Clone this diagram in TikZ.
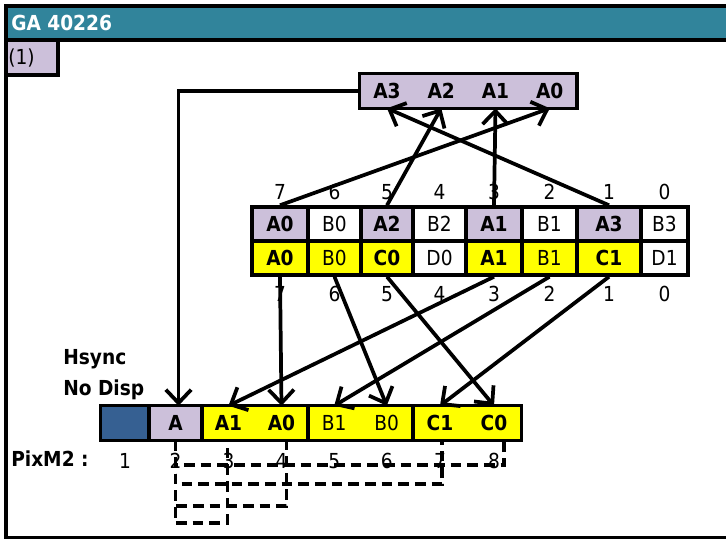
\documentclass[tikz,border=0pt]{standalone}
\usepackage{fontspec}
\setmainfont{DejaVu Sans Condensed}
\usetikzlibrary{arrows.meta}
\definecolor{headteal}{RGB}{49,132,155}
\definecolor{palelilac}{RGB}{204,192,218}
\definecolor{darkblue}{RGB}{54,96,146}
\definecolor{cellyellow}{RGB}{255,255,0}

\begin{document}
\begin{tikzpicture}[x=0.75pt,y=-0.75pt,
  every node/.style={font=\fontsize{15.5}{17}\selectfont, inner sep=0pt},
  cell/.style={minimum height=34*0.75pt},
  lbl/.style={font=\fontsize{15.5}{17}\selectfont\bfseries},
  link/.style={line width=2.8pt, -{Straight Barb[length=10pt,width=19pt]}},
  pairline/.style={line width=2.8pt, dash pattern=on 8pt off 4.5pt}]
  \useasboundingbox (0,0) rectangle (726,539);
  \clip (0,0) rectangle (726,539);

  % frame and header
  \fill[headteal] (6,6) rectangle (740,40);
  \fill[palelilac] (6,40) rectangle (58,75);
  \draw[line width=2.6pt] (6,6) rectangle (740,538);
  \draw[line width=2.6pt] (6,40) -- (740,40);
  \draw[line width=2.6pt] (6,75) -| (58,40);
  \node[lbl, text=white, anchor=west] (title) at (11,23) {GA 40226};
  \node[anchor=west] (phase) at (8,58) {(1)};

  % target byte
  \foreach \lab [count=\i from 0] in {A3,A2,A1,A0} {
    \pgfmathsetmacro\cx{387+\i*54.25}
    \pgfmathtruncatemacro\k{3-\i}
    \node[cell, lbl, minimum width=54.25*0.75pt, fill=palelilac] (t\k) at (\cx,91) {\lab};
  }
  \draw[line width=2.6pt] (t3.north west) rectangle (t0.south east);

  % source bytes
  \def\rowU{224}
  \def\rowL{258}
  \foreach \cx/\w/\bit/\toptxt/\topfill/\lowtxt/\lowfill [count=\col] in {
      280/56/7/\textbf{A0}/palelilac/\textbf{A0}/cellyellow,
      334.5/53/6/B0/white/B0/cellyellow,
      387/52/5/\textbf{A2}/palelilac/\textbf{C0}/cellyellow,
      439.5/53/4/B2/white/D0/white,
      494/56/3/\textbf{A1}/palelilac/\textbf{A1}/cellyellow,
      549.5/55/2/B1/white/B1/cellyellow,
      609/64/1/\textbf{A3}/palelilac/\textbf{C1}/cellyellow,
      664.5/47/0/B3/white/D1/white} {
    \node[cell, minimum width=\w*0.75pt, fill=\topfill, draw, line width=2.6pt] (u\col) at (\cx,\rowU) {\toptxt};
    \node[cell, minimum width=\w*0.75pt, fill=\lowfill, draw, line width=2.6pt] (l\col) at (\cx,\rowL) {\lowtxt};
    \node (ut\col) at (\cx,192) {\bit};
    \node (lb\col) at (\cx,294) {\bit};
  }

  % pixel row
  \node[cell, minimum width=48*0.75pt, fill=darkblue] (bX) at (125,423) {};
  \node[cell, lbl, minimum width=53*0.75pt, fill=palelilac] (bA) at (175.5,423) {A};
  \foreach \nm/\cx/\w/\txt in {A1/228.5/53/\textbf{A1}, A0/281.5/53/\textbf{A0},
      B1/334.25/52.5/B1, B0/386.75/52.5/B0, C1/440/54/\textbf{C1}, C0/494/54/\textbf{C0}}
    \node[cell, minimum width=\w*0.75pt, fill=cellyellow] (b\nm) at (\cx,423) {\txt};
  \foreach \a/\b in {bX/bX, bA/bA, bA1/bA0, bB1/bB0, bC1/bC0}
    \draw[line width=2.6pt] (\a.north west) rectangle (\b.south east);

  \node[lbl, anchor=west] (hsync) at (63,359) {Hsync};
  \node[lbl, anchor=west] (nodisp) at (63,390) {No Disp};
  \node[lbl, anchor=west] (pixm) at (11,459) {PixM2 :};
  \foreach \nm [count=\n] in {X,A,A1,A0,B1,B0,C1,C0}
    \path (b\nm.south) ++(0,21) node (n\n) {\n};

  % arrows
  \draw[link] (t3.west) -| ([xshift=3*0.75pt]bA.north);
  \foreach \s/\t in {u1/t0, u3/t2, u5/t1, u7/t3}
    \draw[link] (\s.north) -- (\t.south);
  \foreach \s/\t in {l1/bA0, l2/bB0, l3/bC0, l5/bA1, l6/bB1, l7/bC1}
    \draw[link] (\s.south) -- (\t.north);

  % pixel pairs
  \foreach \t/\dx/\dy in {bC0/10/25, bC1/2/44, bA0/5/66, bA1/-1/83}
    \draw[pairline] (bA.south) -- ++(0,\dy) -| ([xshift=\dx*0.75pt]\t.south);
\end{tikzpicture}
\end{document}
